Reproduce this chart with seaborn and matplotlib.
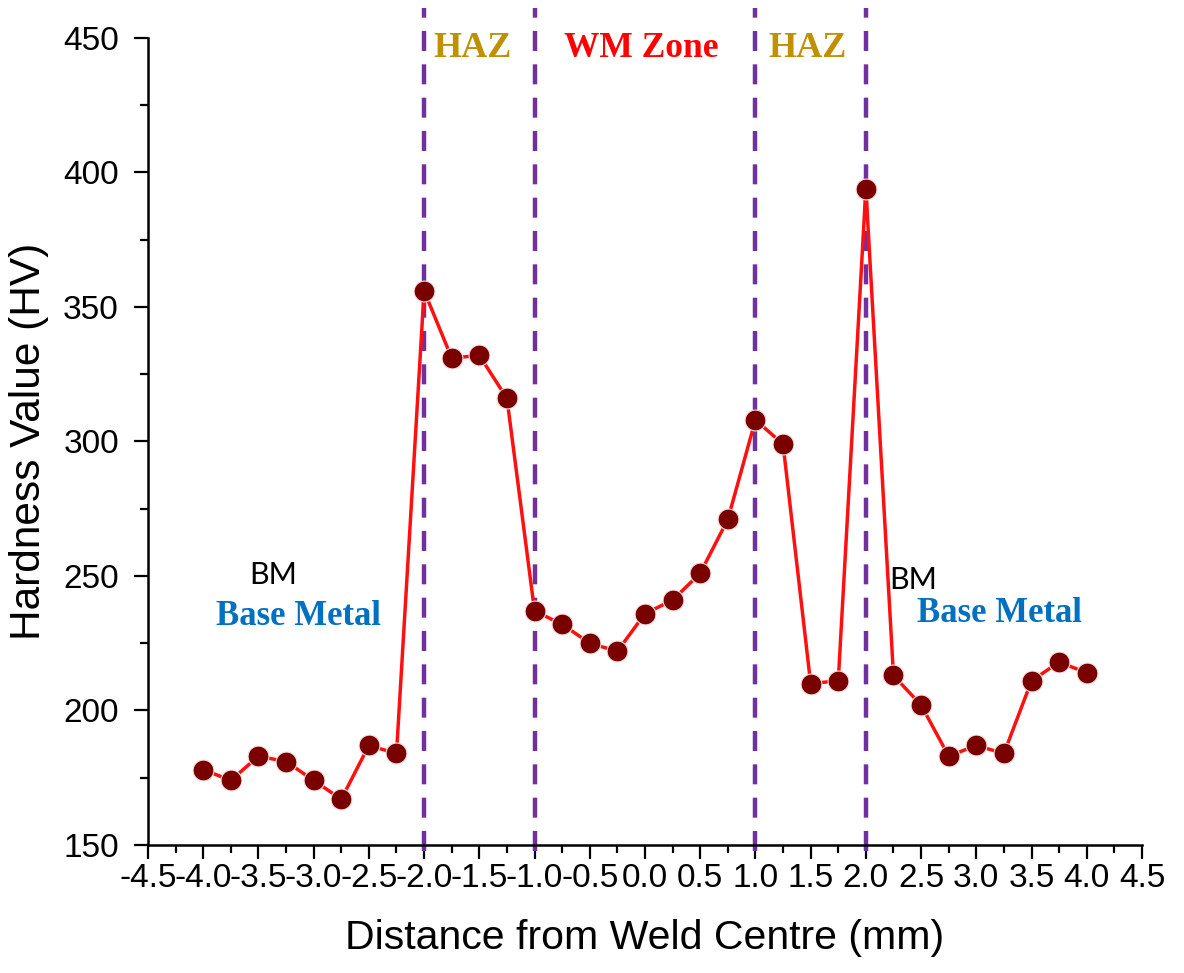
import numpy as np
import pandas as pd
import matplotlib
matplotlib.use("Agg")
import matplotlib.pyplot as plt
import seaborn as sns
from matplotlib.ticker import MultipleLocator

# Hardness readings across the weld
distance = [-4.0, -3.75, -3.5, -3.25, -3.0, -2.75, -2.5, -2.25,
            -2.0, -1.75, -1.5, -1.25, -1.0, -0.75, -0.5, -0.25,
            0.0, 0.25, 0.5, 0.75, 1.0, 1.25, 1.5, 1.75,
            2.0, 2.25, 2.5, 2.75, 3.0, 3.25, 3.5, 3.75, 4.0]
hardness = [178, 174, 183, 181, 174, 167, 187, 184,
            356, 331, 332, 316, 237, 232, 225, 222,
            236, 241, 251, 271, 308, 299, 210, 211,
            394, 213, 202, 183, 187, 184, 211, 218, 214]

zone_bounds = [-2.0, -1.0, 1.0, 2.0]
x_ticks = [-4.5, -4.0, -3.5, -3.0, -2.5, -2.0, -1.5, -1.0, -0.5, 0.0,
           0.5, 1.0, 1.5, 2.0, 2.5, 3.0, 3.5, 4.0, 4.5]
x_tick_labels = ["-4.5", "-4.0", "-3.5", "-3.0", "-2.5", "-2.0", "-1.5", "-1.0",
                 "-0.5", "0.0", "0.5", "1.0", "1.5", "2.0", "2.5", "3.0",
                 "3.5", "4.0", "4.5"]
y_ticks = [150, 200, 250, 300, 350, 400, 450]

df = pd.DataFrame({"Distance": distance, "Hardness": hardness})

sns.set_style("ticks")
plt.rcParams["font.family"] = ["Liberation Sans", "DejaVu Sans"]
plt.rcParams["axes.unicode_minus"] = False
plt.rcParams["text.color"] = "black"
plt.rcParams["axes.labelcolor"] = "black"
plt.rcParams["xtick.color"] = "black"
plt.rcParams["ytick.color"] = "black"

fig = plt.figure(figsize=(11.84, 9.73), dpi=100)
ax = fig.add_axes([0.125, 0.1316, 0.8395, 0.8294])

# zone boundaries
for xb in zone_bounds:
    ax.axvline(xb, ymin=-0.008, ymax=1.037, color="#7030A0", lw=3.2,
               linestyle=(0, (4.5, 3)), clip_on=False, zorder=1)

sns.lineplot(data=df, x="Distance", y="Hardness", ax=ax, color="#FF1010",
             lw=2.5, marker="o", markersize=15, markerfacecolor="#7A0000",
             markeredgecolor="#F4DCDC", markeredgewidth=0.8, zorder=3)

ax.set_xlim(-4.5, 4.5)
ax.set_ylim(150, 450)
ax.set_xticks(x_ticks)
ax.set_xticklabels(x_tick_labels)
ax.set_yticks(y_ticks)
ax.xaxis.set_minor_locator(MultipleLocator(0.25))
ax.yaxis.set_minor_locator(MultipleLocator(25))
ax.tick_params(which="major", length=10, width=1.6, labelsize=24,
               direction="out", color="black", labelcolor="black")
ax.tick_params(axis="x", which="major", pad=3)
ax.tick_params(axis="y", which="major", pad=11)
ax.tick_params(which="minor", length=5.5, width=1.6, direction="out")
for s in ["top", "right"]:
    ax.spines[s].set_visible(False)
for s in ["left", "bottom"]:
    ax.spines[s].set_linewidth(1.8)
    ax.spines[s].set_color("black")

ax.set_xlabel("Distance from Weld Centre (mm)", fontsize=29.5, labelpad=18)
ax.set_ylabel("Hardness Value (HV)", fontsize=30.5, labelpad=10)

serif = ["Liberation Serif", "DejaVu Serif"]
ax.text(-1.56, 446.0, "HAZ", color="#BF9000", fontsize=26, fontweight="bold",
        family=serif, ha="center", va="center")
ax.text(-0.03, 446.0, "WM Zone", color="#FF0000", fontsize=25.5, fontweight="bold",
        family=serif, ha="center", va="center")
ax.text(1.47, 446.0, "HAZ", color="#BF9000", fontsize=26, fontweight="bold",
        family=serif, ha="center", va="center")

ax.text(-3.37, 250.5, "BM", color="black", fontsize=22, family=["Lato", "DejaVu Sans"],
        ha="center", va="center")
ax.text(-3.14, 234.8, "Base Metal", color="#0070C0", fontsize=25, fontweight="bold",
        family=serif, ha="center", va="center")
ax.text(2.43, 248.5, "BM", color="black", fontsize=22, family=["Lato", "DejaVu Sans"],
        ha="center", va="center")
ax.text(3.21, 236.0, "Base Metal", color="#0070C0", fontsize=25, fontweight="bold",
        family=serif, ha="center", va="center")

fig.savefig("out.png", dpi=100, facecolor="white")
